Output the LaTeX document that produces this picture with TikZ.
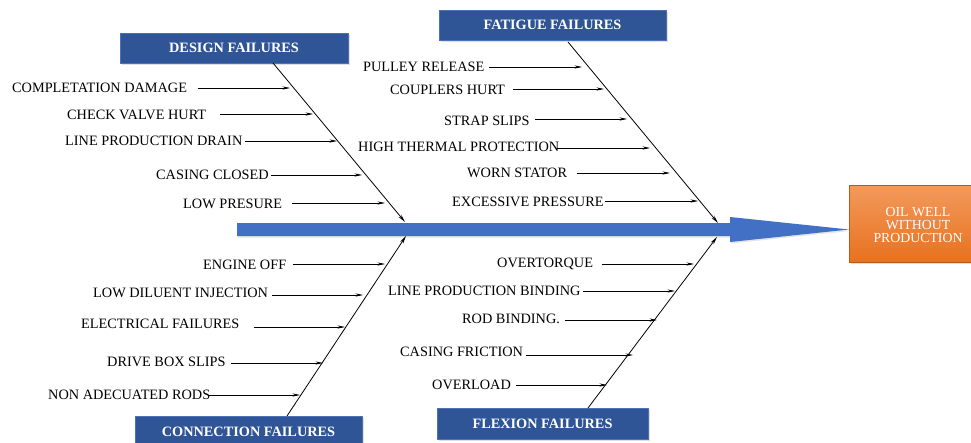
\documentclass[tikz,border=0pt]{standalone}
\usepackage{fontspec}
\setmainfont{Liberation Serif}
\usetikzlibrary{arrows.meta,shadows}
\definecolor{boxblue}{HTML}{2F5597}
\definecolor{boxedge}{HTML}{4A72B8}
\definecolor{arrowblue}{HTML}{4170C4}
\definecolor{orangeA}{HTML}{F29A5C}
\definecolor{orangeB}{HTML}{E8711F}
\tikzset{
  catbox/.style={draw=boxedge, line width=0.8pt, fill=boxblue, text=white,
    font=\fontsize{14.3}{16}\selectfont\bfseries, inner sep=0pt, drop shadow={opacity=0.25, shadow xshift=1.5pt, shadow yshift=-1.5pt}},
  cause/.style={anchor=base west, inner sep=0pt, font=\fontsize{14.3}{16}\selectfont},
  rib/.style={line width=0.7pt, -{Stealth[length=7.5pt,width=3.2pt]}},
  spine/.style={line width=0.8pt, -{Stealth[length=8pt,width=3.5pt]}},
}
\begin{document}
\begin{tikzpicture}[x=1pt,y=-1pt]
\useasboundingbox (0,0) rectangle (971,442);
\fill[white] (0,0) rectangle (971,442);

% main arrow
\fill[arrowblue, drop shadow={opacity=0.2, shadow xshift=1pt, shadow yshift=-1.5pt}]
  (237,223) -- (730,223) -- (730,217) -- (849,229.5) -- (730,242) -- (730,236) -- (237,236) -- cycle;
\coordinate (dsp) at (405,222);
\coordinate (fsp) at (718,223);
\coordinate (csp) at (406,236);
\coordinate (xsp) at (717,237);

% effect box
\node[draw=orangeB!80!black, line width=0.5pt, top color=orangeA, bottom color=orangeB, minimum width=126pt, minimum height=77pt, inner sep=0pt,
  drop shadow={opacity=0.25, shadow xshift=1.5pt, shadow yshift=-1.5pt}] (effect) at (912,223.5) {};
\node[text=white, align=center, font=\fontsize{13.8}{13}\selectfont] (efftext) at (918,225) {OIL WELL\\WITHOUT\\PRODUCTION};

% category boxes
\node[catbox, minimum width=228pt, minimum height=30pt] (design) at (234,48) {DESIGN FAILURES};
\node[catbox, minimum width=227pt, minimum height=30pt] (fatigue) at (552.5,25) {FATIGUE FAILURES};
\node[catbox, minimum width=227pt, minimum height=32pt] (connection) at (248.5,432) {CONNECTION FAILURES};
\node[catbox, minimum width=211pt, minimum height=31pt] (flexion) at (542.5,423.5) {FLEXION FAILURES};

% spines
\coordinate (ds) at (273,63);
\coordinate (fs) at (568,42);
\coordinate (cs) at (287,416);
\coordinate (xs) at (588,408);
\draw[spine] (ds) -- (dsp);
\draw[spine] (fs) -- (fsp);
\draw[spine] (cs) -- (csp);
\draw[spine] (xs) -- (xsp);

% design causes
\node[cause] (d1) at (12,92) {COMPLETATION DAMAGE};
\node[cause] (d2) at (67,119.5) {CHECK VALVE HURT};
\node[cause] (d3) at (65,145.5) {LINE PRODUCTION DRAIN};
\node[cause] (d4) at (156,179.5) {CASING CLOSED};
\node[cause] (d5) at (183,208.5) {LOW PRESURE};
\coordinate (d1a) at (198,88); \coordinate (d1b) at (290,88);
\coordinate (d2a) at (220,114); \coordinate (d2b) at (313,114);
\coordinate (d3a) at (245,141); \coordinate (d3b) at (337,141);
\coordinate (d4a) at (271,175); \coordinate (d4b) at (362,175);
\coordinate (d5a) at (292,203); \coordinate (d5b) at (385,203);
\foreach \i in {1,...,5} \draw[rib] (d\i a) -- (d\i b);

% fatigue causes
\node[cause] (f1) at (363,71.5) {PULLEY RELEASE};
\node[cause] (f2) at (390,94.5) {COUPLERS HURT};
\node[cause] (f3) at (444,125.5) {STRAP SLIPS};
\node[cause] (f4) at (358,151.5) {HIGH THERMAL PROTECTION};
\node[cause] (f5) at (467,177.5) {WORN STATOR};
\node[cause] (f6) at (452,206.5) {EXCESSIVE PRESSURE};
\coordinate (f1a) at (489,67); \coordinate (f1b) at (582,67);
\coordinate (f2a) at (513,89); \coordinate (f2b) at (604,89);
\coordinate (f3a) at (535,119); \coordinate (f3b) at (627,119);
\coordinate (f4a) at (557,148); \coordinate (f4b) at (650,148);
\coordinate (f5a) at (577,173); \coordinate (f5b) at (670,173);
\coordinate (f6a) at (605,201); \coordinate (f6b) at (698,201);
\foreach \i in {1,...,6} \draw[rib] (f\i a) -- (f\i b);

% connection causes
\node[cause] (c1) at (203,269.5) {ENGINE OFF};
\node[cause] (c2) at (93,297.5) {LOW DILUENT INJECTION};
\node[cause] (c3) at (81,328.5) {ELECTRICAL FAILURES};
\node[cause] (c4) at (107,366.5) {DRIVE BOX SLIPS};
\node[cause] (c5) at (48,399.5) {NON ADECUATED RODS};
\coordinate (c1a) at (293,264); \coordinate (c1b) at (385,264);
\coordinate (c2a) at (272,295); \coordinate (c2b) at (363,295);
\coordinate (c3a) at (254,327); \coordinate (c3b) at (345,327);
\coordinate (c4a) at (231,363); \coordinate (c4b) at (323,363);
\coordinate (c5a) at (209,395); \coordinate (c5b) at (300,395);
\foreach \i in {1,...,5} \draw[rib] (c\i a) -- (c\i b);

% flexion causes
\node[cause] (x1) at (497,267.5) {OVERTORQUE};
\node[cause] (x2) at (388,295.5) {LINE PRODUCTION BINDING};
\node[cause] (x3) at (462,323.5) {ROD BINDING.};
\node[cause] (x4) at (400,356.5) {CASING FRICTION};
\node[cause] (x5) at (432,389.5) {OVERLOAD};
\coordinate (x1a) at (602,264); \coordinate (x1b) at (694,264);
\coordinate (x2a) at (583,291); \coordinate (x2b) at (675,291);
\coordinate (x3a) at (565,320); \coordinate (x3b) at (657,320);
\coordinate (x4a) at (526,355); \coordinate (x4b) at (633,355);
\coordinate (x5a) at (516,385); \coordinate (x5b) at (607,385);
\foreach \i in {1,...,5} \draw[rib] (x\i a) -- (x\i b);
\end{tikzpicture}
\end{document}
